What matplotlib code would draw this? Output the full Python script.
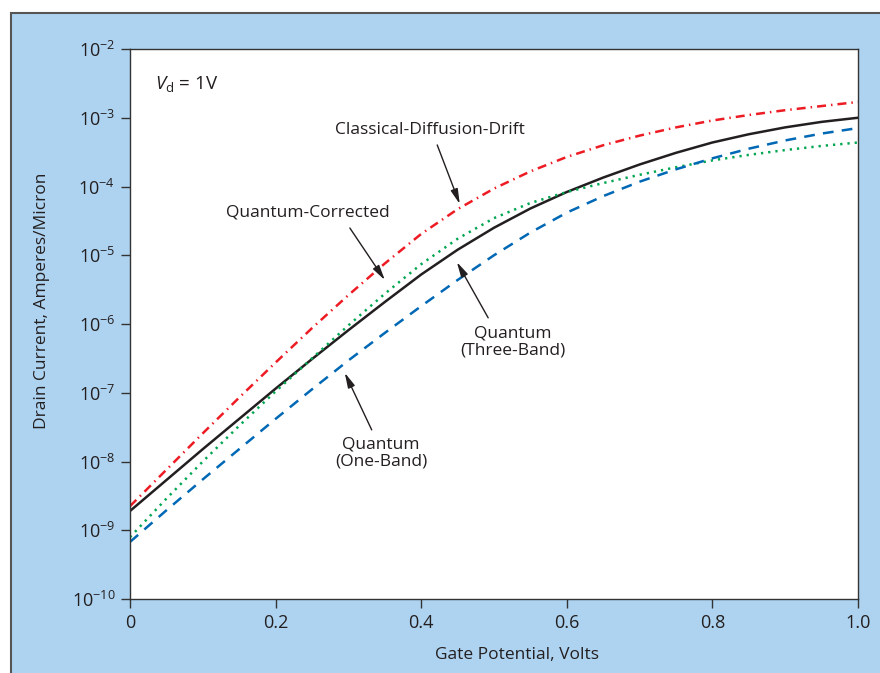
import numpy as np
import matplotlib
matplotlib.use("Agg")
import matplotlib.pyplot as plt
from matplotlib.patches import Rectangle

# gate potential (V) and log10 of drain current (A/micron)
gate_v = [0.0, 0.05, 0.1, 0.15, 0.2, 0.25, 0.3, 0.35, 0.4, 0.45, 0.5,
          0.55, 0.6, 0.65, 0.7, 0.75, 0.8, 0.85, 0.9, 0.95, 1.0]
log_classical = [-8.65, -8.12, -7.59, -7.07, -6.56, -6.06, -5.58, -5.12, -4.69, -4.33, -4.03,
                 -3.78, -3.57, -3.40, -3.26, -3.14, -3.04, -2.96, -2.89, -2.83, -2.77]
log_three_band = [-8.72, -8.27, -7.82, -7.38, -6.94, -6.51, -6.09, -5.68, -5.28, -4.92, -4.60,
                  -4.32, -4.08, -3.87, -3.68, -3.51, -3.36, -3.24, -3.14, -3.06, -3.00]
log_corrected = [-9.10, -8.54, -8.00, -7.48, -6.98, -6.50, -6.02, -5.56, -5.13, -4.76, -4.46,
                 -4.24, -4.08, -3.95, -3.83, -3.72, -3.62, -3.54, -3.47, -3.41, -3.36]
log_one_band = [-9.17, -8.71, -8.26, -7.82, -7.38, -6.95, -6.53, -6.13, -5.74, -5.36, -5.00,
                -4.67, -4.38, -4.14, -3.93, -3.75, -3.59, -3.45, -3.33, -3.23, -3.15]

x_ticks = [0, 0.2, 0.4, 0.6, 0.8, 1.0]
x_tick_labels = ["0", "0.2", "0.4", "0.6", "0.8", "1.0"]
y_exponents = [-10, -9, -8, -7, -6, -5, -4, -3, -2]

plt.rcParams['font.family'] = ['Open Sans', 'DejaVu Sans']
plt.rcParams['mathtext.fontset'] = 'custom'
plt.rcParams['mathtext.rm'] = 'Open Sans'
plt.rcParams['mathtext.it'] = 'Open Sans:italic'
plt.rcParams['text.color'] = '#231f20'

bg = '#aed3f0'
ink = '#231f20'
fs = 12.5

fig = plt.figure(figsize=(8.8, 6.73), dpi=100)
fig.patch.set_facecolor('white')
fig.patches.append(Rectangle((11 / 880, -0.05), 1.1, 1.05 - 13 / 673, transform=fig.transFigure,
                             facecolor=bg, edgecolor='#555555', lw=1.5, zorder=-10))

ax = fig.add_axes([130 / 880, 1 - 599 / 673, 728 / 880, 550 / 673])
ax.set_facecolor('white')

x = np.array(gate_v)
ax.plot(x, 10 ** np.array(log_classical), color='#ed1c24', lw=1.8, dashes=(3.6, 2.0, 0.6, 2.0))
ax.plot(x, 10 ** np.array(log_three_band), color='#231f20', lw=1.8)
ax.plot(x, 10 ** np.array(log_corrected), color='#00a651', lw=1.8, dashes=(0.9, 2.0))
ax.plot(x, 10 ** np.array(log_one_band), color='#0068b4', lw=1.8, dashes=(4.3, 3.3))

ax.set_yscale('log')
ax.set_xlim(0, 1.0)
ax.set_ylim(1e-10, 1e-2)
ax.set_xticks(x_ticks)
ax.set_xticklabels(x_tick_labels)
ax.set_yticks([10.0 ** e for e in y_exponents])
ax.set_yticklabels([r"$10^{-%d}$" % -e for e in y_exponents])
ax.yaxis.set_minor_locator(matplotlib.ticker.NullLocator())
ax.tick_params(axis='both', direction='out', length=6.5, width=1, color='#333333',
               labelsize=13, labelcolor=ink, pad=4)
for s in ax.spines.values():
    s.set_color('#333333')
    s.set_linewidth(1)

# axis titles sit a little off-centre in the original
fig.text(517 / 880, 1 - 655 / 673, "Gate Potential, Volts", fontsize=fs, color=ink,
         ha='center', va='center')
fig.text(42 / 880, 1 - 301 / 673, "Drain Current, Amperes/Micron", fontsize=fs, color=ink,
         ha='center', va='center', rotation=90)

ax.text(0.034, 10 ** -2.51, r"$V_{\rm d}$ = 1V", fontsize=13.5, va='center', ha='left')

arrow = dict(arrowstyle='-|>,head_length=0.9,head_width=0.22', color=ink, lw=1, shrinkA=0, shrinkB=0)
ax.text(0.412, 10 ** -3.18, "Classical-Diffusion-Drift", fontsize=fs, ha='center', va='center')
ax.annotate("", xy=(0.453, 10 ** -4.255), xytext=(0.422, 10 ** -3.396), arrowprops=arrow)
ax.text(0.245, 10 ** -4.385, "Quantum-Corrected", fontsize=fs, ha='center', va='center')
ax.annotate("", xy=(0.350, 10 ** -5.36), xytext=(0.302, 10 ** -4.604), arrowprops=arrow)
ax.text(0.526, 10 ** -6.26, "Quantum\n(Three-Band)", fontsize=fs, ha='center', va='center',
        linespacing=1.05)
ax.annotate("", xy=(0.449, 10 ** -5.10), xytext=(0.492, 10 ** -5.91), arrowprops=arrow)
ax.text(0.345, 10 ** -7.876, "Quantum\n(One-Band)", fontsize=fs, ha='center', va='center',
        linespacing=1.05)
ax.annotate("", xy=(0.295, 10 ** -6.71), xytext=(0.332, 10 ** -7.54), arrowprops=arrow)

fig.savefig("out.png", dpi=100, facecolor=fig.get_facecolor())
